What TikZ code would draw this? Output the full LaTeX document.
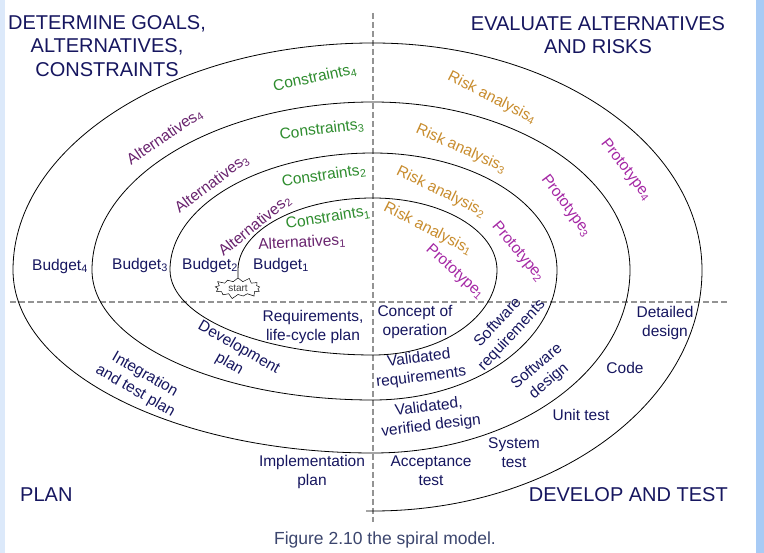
\documentclass[tikz,border=0pt]{standalone}
\usepackage{fontspec}
\setmainfont{Liberation Sans}
\usetikzlibrary{shapes.symbols}
\definecolor{navy}{RGB}{22,22,95}
\definecolor{cgreen}{RGB}{45,140,45}
\definecolor{altpurple}{RGB}{105,35,110}
\definecolor{riskorange}{RGB}{200,140,45}
\definecolor{protomag}{RGB}{165,40,165}
\definecolor{captioncol}{RGB}{60,70,110}
\definecolor{leftblue}{RGB}{220,233,250}
\definecolor{rightblue}{RGB}{168,203,245}
\tikzset{
  lab/.style={font=\fontsize{15.5}{19}\selectfont, text=navy, inner sep=0pt, align=center},
  hdr/.style={font=\fontsize{20}{23.5}\selectfont, text=navy, inner sep=0pt, align=center},
  cons/.style={lab, text=cgreen},
  alt/.style={lab, text=altpurple},
  risk/.style={lab, text=riskorange},
  proto/.style={lab, text=protomag},
  axisline/.style={draw=gray!85, line width=1.4pt, dash pattern=on 6pt off 3pt},
  spiralline/.style={draw=black, line width=0.8pt},
}
\begin{document}
\begin{tikzpicture}[x=1pt,y=-1pt]
\useasboundingbox (0,0) rectangle (764,553);
\fill[white] (0,0) rectangle (764,553);
\fill[leftblue] (0,0) rectangle (5,553);
\fill[rightblue] (756,0) rectangle (764,553);

% axes
\coordinate (vtop) at (373,13);
\coordinate (vbot) at (373,522);
\coordinate (hleft) at (10,302);
\coordinate (hright) at (728,302);
\draw[axisline] (vtop) -- (vbot);
\draw[axisline] (hleft) -- (hright);

% start burst
\node[starburst, draw, fill=white, line width=0.5pt, minimum width=50pt, minimum height=23pt,
      starburst points=13, starburst point height=5pt, inner sep=0pt,
      font=\fontsize{10}{11}\selectfont, text=black!75] (start) at (238,288) {start};

% spiral
\coordinate (s0) at (238,270);
\coordinate (send) at (366,511);
\draw[spiralline] (start.north) -- (s0)
  arc[start angle=180,end angle=270,x radius=135,y radius=72]
  arc[start angle=270,end angle=360,x radius=124,y radius=72]
  arc[start angle=0,end angle=90,x radius=124,y radius=85]
  arc[start angle=90,end angle=180,x radius=203,y radius=85]
  arc[start angle=180,end angle=270,x radius=203,y radius=117]
  arc[start angle=270,end angle=360,x radius=184,y radius=117]
  arc[start angle=0,end angle=90,x radius=184,y radius=130]
  arc[start angle=90,end angle=180,x radius=281,y radius=130]
  arc[start angle=180,end angle=270,x radius=281,y radius=168]
  arc[start angle=270,end angle=360,x radius=257,y radius=168]
  arc[start angle=0,end angle=90,x radius=257,y radius=183]
  arc[start angle=90,end angle=180,x radius=360,y radius=183]
  arc[start angle=180,end angle=270,x radius=360,y radius=227]
  arc[start angle=270,end angle=360,x radius=329,y radius=227]
  arc[start angle=0,end angle=90,x radius=329,y radius=241]
  -- (send);

% headers
\node[hdr] (hdetermine) at (107,46) {DETERMINE GOALS,\\ALTERNATIVES,\\CONSTRAINTS};
\node[hdr] (hevaluate) at (598,35) {EVALUATE ALTERNATIVES\\AND RISKS};
\node[hdr, anchor=west] (hplan) at (20,495) {PLAN};
\node[hdr, anchor=east] (hdevelop) at (728,495) {DEVELOP AND TEST};

% upper left quadrant
\node[cons, rotate=12] (c4) at (315,78) {Constraints\textsubscript{4}};
\node[cons, rotate=7] (c3) at (322,130) {Constraints\textsubscript{3}};
\node[cons, rotate=8] (c2) at (324,176) {Constraints\textsubscript{2}};
\node[cons, rotate=9] (c1) at (328,218) {Constraints\textsubscript{1}};
\node[alt, rotate=34] (a4) at (165,137) {Alternatives\textsubscript{4}};
\node[alt, rotate=37] (a3) at (212,184) {Alternatives\textsubscript{3}};
\node[alt, rotate=39] (a2) at (255,226) {Alternatives\textsubscript{2}};
\node[alt, rotate=3] (a1) at (302,243) {Alternatives\textsubscript{1}};
\node[lab] (b4) at (60,266) {Budget\textsubscript{4}};
\node[lab] (b3) at (140,265) {Budget\textsubscript{3}};
\node[lab] (b2) at (210,265) {Budget\textsubscript{2}};
\node[lab] (b1) at (281,265) {Budget\textsubscript{1}};

% upper right quadrant
\node[risk, rotate=-27] (r4) at (492,98) {Risk analysis\textsubscript{4}};
\node[risk, rotate=-24] (r3) at (461,149) {Risk analysis\textsubscript{3}};
\node[risk, rotate=-26] (r2) at (441,192) {Risk analysis\textsubscript{2}};
\node[risk, rotate=-27] (r1) at (428,229) {Risk analysis\textsubscript{1}};
\node[proto, rotate=-52] (p4) at (626,170) {Prototype\textsubscript{4}};
\node[proto, rotate=-53] (p3) at (566,206) {Prototype\textsubscript{3}};
\node[proto, rotate=-50] (p2) at (518,252) {Prototype\textsubscript{2}};
\node[proto, rotate=-42] (p1) at (455,272) {Prototype\textsubscript{1}};

% lower left quadrant
\node[lab] (req) at (313,327) {Requirements,\\life-cycle plan};
\node[lab, rotate=-30] (devplan) at (234,356) {Development\\plan};
\node[lab, rotate=-30] (integ) at (140,383) {Integration\\and test plan};
\node[lab] (impl) at (312,472) {Implementation\\plan};

% lower right quadrant
\node[lab] (concept) at (415,322) {Concept of\\operation};
\node[lab, rotate=7] (valreq) at (420,368) {Validated\\requirements};
\node[lab, rotate=7] (valver) at (430,417) {Validated,\\verified design};
\node[lab] (accept) at (431,471) {Acceptance\\test};
\node[lab, rotate=47] (swreq) at (505,329) {Software\\requirements};
\node[lab, rotate=40] (swdes) at (543,374) {Software\\design};
\node[lab] (code) at (625,368) {Code};
\node[lab] (detailed) at (665,323) {Detailed\\design};
\node[lab] (unit) at (581,415) {Unit test};
\node[lab] (system) at (514,453) {System\\test};

% caption
\node[font=\fontsize{17.5}{20}\selectfont, text=captioncol, inner sep=0pt] (caption) at (385,540) {Figure 2.10 the spiral model.};
\end{tikzpicture}
\end{document}
